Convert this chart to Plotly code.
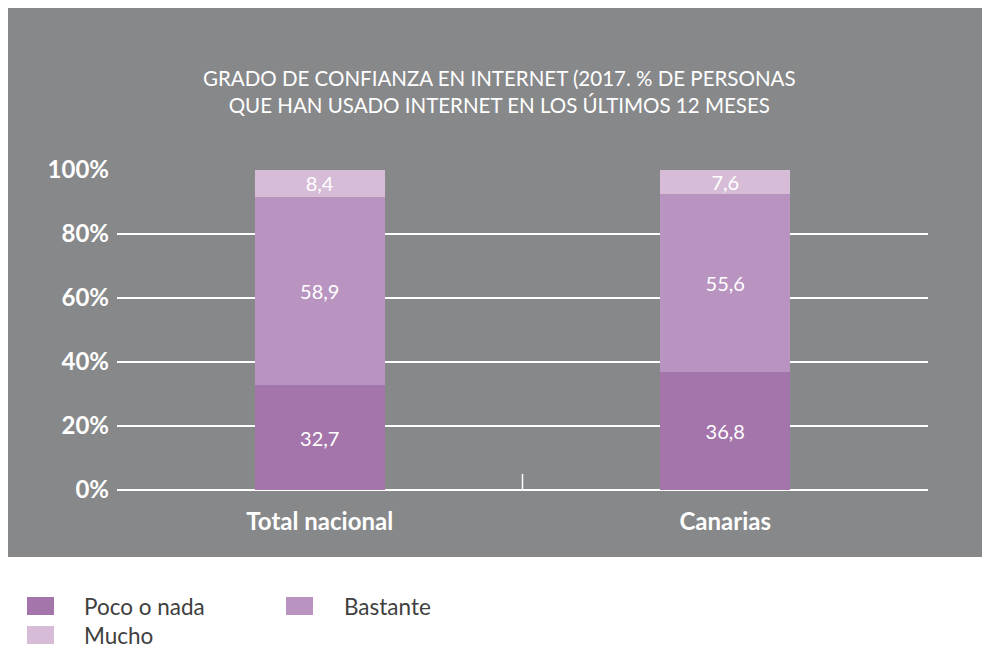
import plotly.graph_objects as go

# Datos del gráfico
categorias = ['Total nacional', 'Canarias']
series = ['Poco o nada', 'Bastante', 'Mucho']
poco_o_nada = [32.7, 36.8]
bastante = [58.9, 55.6]
mucho = [8.4, 7.6]
colores = ['#A475AA', '#B994C1', '#D6BCD6']
ticks_y = [0, 20, 40, 60, 80, 100]
etiquetas_y = ['0%', '20%', '40%', '60%', '80%', '100%']

titulo = ('GRADO DE CONFIANZA EN INTERNET (2017. % DE PERSONAS<br>'
          'QUE HAN USADO INTERNET EN LOS ÚLTIMOS 12 MESES')

FUENTE = 'Lato'
GRIS = '#87888A'

# Margenes en px (la pagina añade 8 px de margen) -> zona de trazado 109..920 x 162..482
ML, MR, MT, MB = 109, 70, 162, 166
W, H = 990, 648
PW, PH = W - ML - MR, H - MT - MB


def px_x(x):
    return (x - ML) / PW


def px_y(y):
    return (H - MB - y) / PH


fig = go.Figure()

for nombre, valores, color in zip(series, [poco_o_nada, bastante, mucho], colores):
    fig.add_trace(go.Bar(
        x=categorias,
        y=valores,
        name=nombre,
        marker=dict(color=color, line=dict(width=0)),
        text=[f'{v:.1f}'.replace('.', ',') for v in valores],
        textposition='inside',
        insidetextanchor='middle',
        constraintext='none',
        textfont=dict(color='white', size=20, family=FUENTE),
        showlegend=False,
    ))

shapes = [
    # fondo gris
    dict(type='rect', xref='paper', yref='paper',
         x0=px_x(0), x1=px_x(1000), y0=px_y(549), y1=px_y(0),
         fillcolor=GRIS, line=dict(width=0), layer='below'),
    # marca entre categorias
    dict(type='line', xref='x', yref='y', x0=0.5, x1=0.5, y0=0, y1=5,
         line=dict(color='white', width=1.5)),
]

annotations = [
    dict(text=titulo, xref='paper', yref='paper', x=px_x(491), y=px_y(83),
         xanchor='center', yanchor='middle', showarrow=False, align='center',
         font=dict(family=FUENTE, size=20.5, color='white')),
]

# Leyenda dibujada a mano (cuadros grandes como en el original)
pos_leyenda = [(19, 589, 74), (278, 589, 334), (19, 618, 74)]
for nombre, color, (lx, ly, tx) in zip(series, colores, pos_leyenda):
    shapes.append(dict(type='rect', xref='paper', yref='paper',
                       x0=px_x(lx), x1=px_x(lx + 27), y0=px_y(ly + 18), y1=px_y(ly),
                       fillcolor=color, line=dict(width=0)))
    annotations.append(dict(text=nombre, xref='paper', yref='paper',
                            x=px_x(tx), y=px_y(ly + 9), xanchor='left', yanchor='middle',
                            showarrow=False,
                            font=dict(family=FUENTE, size=22.5, color='#404040')))

fig.update_layout(
    barmode='stack',
    bargap=0.68,
    width=W,
    height=H,
    margin=dict(l=ML, r=MR, t=MT, b=MB, pad=0),
    paper_bgcolor='white',
    plot_bgcolor=GRIS,
    font=dict(family=FUENTE, color='white'),
    shapes=shapes,
    annotations=annotations,
    xaxis=dict(
        showgrid=False, ticks='', showline=False,
        tickfont=dict(family=FUENTE, size=24, color='white', weight='bold'),
        ticklabelstandoff=15,
    ),
    yaxis=dict(
        range=[0, 100], tickvals=ticks_y, ticktext=etiquetas_y,
        showgrid=True, gridcolor='white', gridwidth=1.5,
        zeroline=True, zerolinecolor='white', zerolinewidth=2,
        tickfont=dict(family=FUENTE, size=24, color='white', weight='bold'),
        ticklabelstandoff=7,
    ),
)

fig.write_html('out.html')
